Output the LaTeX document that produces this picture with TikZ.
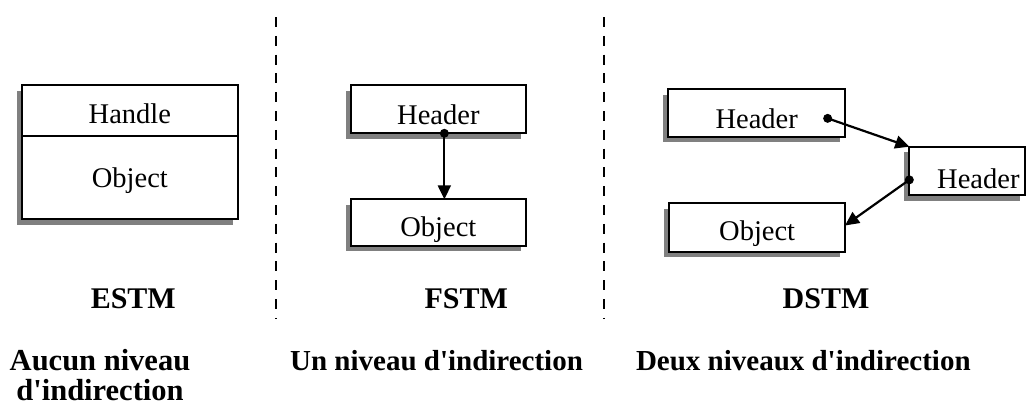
\documentclass[tikz,border=0pt]{standalone}
\usepackage{fontspec}
\setmainfont{Liberation Serif}
\usetikzlibrary{arrows.meta,shadows}
\newcommand{\apos}{\textquotesingle}
\tikzset{
  box/.style={draw=black, line width=2pt, fill=white, outer sep=0pt, inner sep=0pt,
    font=\fontsize{28.5}{30}\selectfont, text depth=0pt,
    drop shadow={shadow xshift=-5pt, shadow yshift=-5.5pt, fill=black!50, opacity=1}},
  dot/.style={circle, fill=black, inner sep=0pt, minimum size=9pt},
  conn/.style={line width=2.2pt, -{Triangle[length=14pt,width=13pt]}},
  sep/.style={line width=2pt, dash pattern=on 10pt off 8.8pt},
  title/.style={anchor=base, inner sep=0pt, font=\fontsize{30}{30}\selectfont\bfseries},
  note/.style={anchor=base, inner sep=0pt, font=\fontsize{29}{30}\selectfont\bfseries}
}
\begin{document}
\begin{tikzpicture}[x=1pt, y=-1pt]
\useasboundingbox (0,0) rectangle (1027,408);
% separators
\coordinate (s1a) at (275.7,17); \coordinate (s1b) at (275.7,319);
\coordinate (s2a) at (603.5,17); \coordinate (s2b) at (603.5,319);
\draw[sep] (s1a) -- (s1b);
\draw[sep] (s2a) -- (s2b);
% ESTM
\node[box, minimum width=216.3pt, minimum height=50.7pt, text height=26pt] (eh) at (129.85,110.35) {Handle};
\node[box, minimum width=216.3pt, minimum height=83.3pt, text height=21pt, anchor=north] (eo) at (eh.south) {Object};
% FSTM
\node[box, minimum width=175.3pt, minimum height=48.3pt, text height=31.6pt] (fh) at (438.35,109.15) {Header};
\node[box, minimum width=175.3pt, minimum height=46.4pt, text height=28.4pt] (fo) at (438.35,222.5) {Object};
\node[dot] (p1) at ([xshift=6pt]fh.south) {};
\draw[conn] (p1.center) -- (p1.center |- fo.north);
% DSTM
\node[box, minimum width=176.7pt, minimum height=47.7pt, text height=31pt] (dh1) at (756.65,112.85) {Header};
\node[box, minimum width=115.7pt, minimum height=48.3pt, text height=34.8pt, text width=104.7pt, align=right, inner xsep=5.5pt] (dh2) at (967.15,170.85) {Header};
\node[box, minimum width=175.7pt, minimum height=48.4pt, text height=25pt] (do) at (757.15,227.5) {Object};
\node[dot] (p2) at ([xshift=71pt,yshift=-5.5pt]dh1.center) {};
\node[dot] (p3) at ([yshift=-9pt]dh2.west) {};
\draw[conn] (p2.center) -- (dh2.north west);
\draw[conn] (p3.center) -- ([yshift=2pt]do.east);
% labels
\node[title] (l1) at (133.3,308) {ESTM};
\node[title] (l2) at (466.3,308) {FSTM};
\node[title] (l3) at (826,308) {DSTM};
\node[note, align=center, font=\fontsize{30.5}{30}\selectfont\bfseries] (n1) at (100,400) {Aucun niveau\\d\apos indirection};
\node[note] (n2) at (436.5,370) {Un niveau d\apos indirection};
\node[note] (n3) at (803.3,370) {Deux niveaux d\apos indirection};
\end{tikzpicture}
\end{document}
